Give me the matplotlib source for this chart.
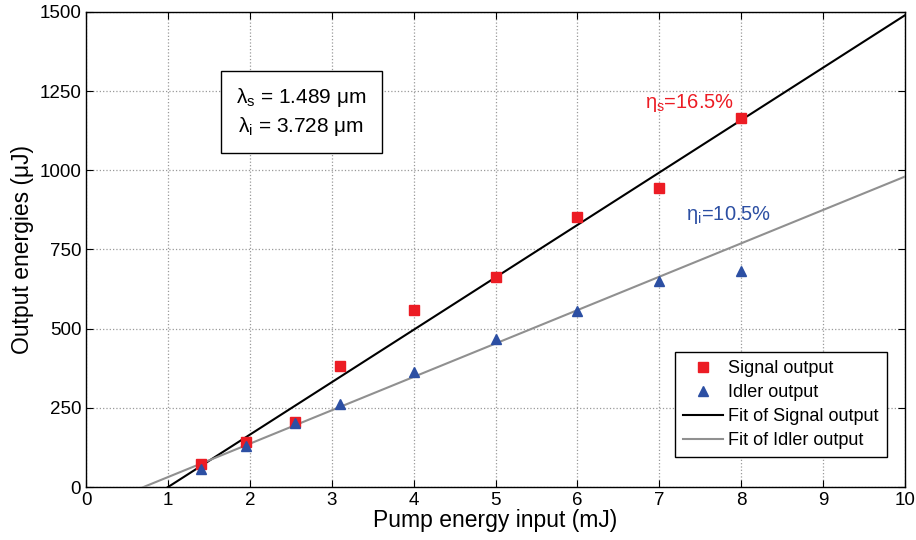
import numpy as np
import matplotlib.pyplot as plt

plt.rcParams['font.family'] = ['Liberation Sans', 'DejaVu Sans']

# данные
pump = [1.4, 1.95, 2.55, 3.1, 4.0, 5.0, 6.0, 7.0, 8.0]
signal = [72, 142, 205, 382, 560, 663, 853, 944, 1165]
idler = [57, 130, 202, 262, 363, 467, 556, 652, 682]

fit_slope = [165.5, 105.4]       # мкДж / мДж
fit_intercept = [-165.5, -73.8]  # мкДж

xticks = np.arange(0, 11, 1)
yticks = [0, 250, 500, 750, 1000, 1250, 1500]

fig = plt.figure(figsize=(9.16, 5.4), dpi=100)
ax = fig.add_axes([0.094, 0.098, 0.894, 0.88])

ax.plot(pump, signal, 's', color='#ec1c24', markersize=6.5, label='Signal output', zorder=4)
ax.plot(pump, idler, '^', color='#2c4fa3', markersize=7.5, label='Idler output', zorder=4)

xx = np.linspace(0, 10, 200)
ax.plot(xx, fit_slope[0] * xx + fit_intercept[0], color='black', lw=1.5, label='Fit of Signal output', zorder=3)
ax.plot(xx, fit_slope[1] * xx + fit_intercept[1], color='#909090', lw=1.5, label='Fit of Idler output', zorder=3)

ax.set_xlim(0, 10)
ax.set_ylim(0, 1500)
ax.set_xticks(xticks)
ax.set_yticks(yticks)
ax.tick_params(direction='in', top=True, right=True, labelsize=13.5, length=5)
ax.grid(True, linestyle=':', color='#999999', lw=0.9)
for s in ax.spines.values():
    s.set_linewidth(1.0)

ax.set_xlabel('Pump energy input (mJ)', fontsize=16.5, labelpad=0)
ax.set_ylabel('Output energies (\u03bcJ)', fontsize=16.5, labelpad=4)

ax.text(2.63, 1184, '\u03bb$_{\\mathregular{s}}$ = 1.489 \u03bcm\n\u03bb$_{\\mathregular{i}}$ = 3.728 \u03bcm',
        fontsize=15, ha='center', va='center', linespacing=1.3,
        bbox=dict(boxstyle='square,pad=0.75', fc='white', ec='black', lw=1))

ax.text(7.37, 1212, '\u03b7$_{\\mathregular{s}}$=16.5%', color='#ec1c24', fontsize=14.5, ha='center', va='center')
ax.text(7.85, 858, '\u03b7$_{\\mathregular{i}}$=10.5%', color='#2c4fa3', fontsize=14.5, ha='center', va='center')

leg = ax.legend(loc='lower right', bbox_to_anchor=(0.978, 0.063), fontsize=13, fancybox=False,
                edgecolor='black', framealpha=1, handlelength=2.2, borderpad=0.45,
                labelspacing=0.38, handletextpad=0.3, borderaxespad=0)
leg.get_frame().set_linewidth(1.0)

fig.savefig('out.png', dpi=100)
